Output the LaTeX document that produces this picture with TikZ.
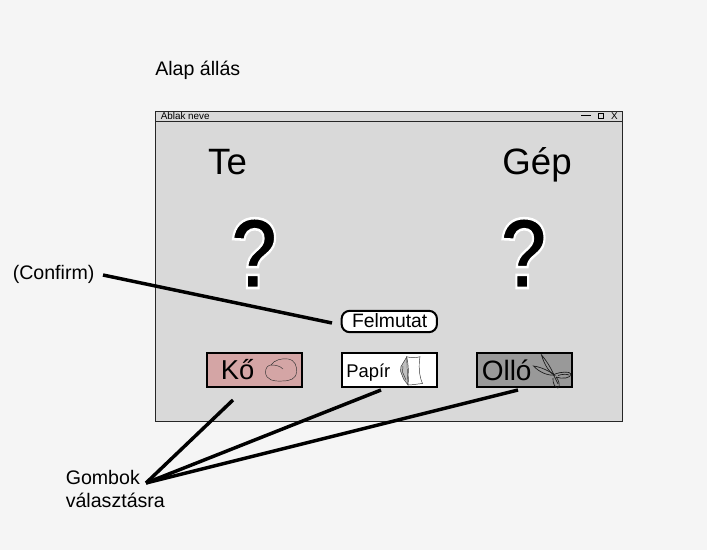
\documentclass[tikz,border=0pt]{standalone}
\usepackage{fontspec}
\setmainfont{Liberation Sans}
\definecolor{pagebg}{HTML}{F5F5F5}
\definecolor{winbg}{HTML}{D9D9D9}
\definecolor{rock}{HTML}{D4A5A5}
\definecolor{sciss}{HTML}{999999}
\newfontfamily\qfont{Liberation Sans Bold}
\newcommand{\haloq}{\scalebox{.83}[1]{\special{pdf:code q 2 Tr 1 1 1 RG 1.9 w}?\special{pdf:code Q}}}
\begin{document}
\begin{tikzpicture}[x=0.75pt,y=-0.75pt,
  win/.style={draw=black!85,line width=0.6pt,fill=winbg},
  btn/.style={draw=black,line width=1.5pt,minimum width=71.5pt,minimum height=25.5pt,inner sep=0pt},
  lead/.style={draw=black,line width=2.6pt},
  note/.style={font=\fontsize{14.7pt}{18.5pt}\selectfont,inner sep=0pt,align=left},
  head/.style={font=\fontsize{27.5pt}{30pt}\selectfont,inner sep=0pt},
  qm/.style={font=\qfont\fontsize{75pt}{77pt}\selectfont,inner sep=0pt},
  sketch/.style={draw=black!80,line width=0.35pt},
  scis/.style={draw=black!90,line width=0.5pt}]
\useasboundingbox (0,0) rectangle (707,550);
\fill[pagebg] (0,0) rectangle (707,550);
\node[note,anchor=base west] (title) at (155,75) {Alap állás};
\node[win,minimum width=350.2pt,minimum height=232.8pt,anchor=north west,inner sep=0pt] (window) at (155,110.5) {};
\draw[draw=black!85,line width=0.6pt] (155,121.5) -- (622.5,121.5);
\node[font=\fontsize{7.4pt}{8pt}\selectfont,inner sep=0pt,anchor=base west] (wname) at (160.5,119.3) {Ablak neve};
\draw[line width=0.6pt] (581,115.5) -- (591,115.5);
\draw[line width=0.6pt] (598,113.5) rectangle (603.5,118);
\node[font=\fontsize{7.4pt}{8pt}\selectfont,inner sep=0pt,anchor=base] (xbtn) at (614.5,119.3) {X};
\node[head,anchor=base] (te) at (227.5,174.5) {Te};
\node[head,anchor=base] (gep) at (537,174.5) {Gép};
\node[qm,anchor=base] (q1) at (254.5,288) {\haloq};
\node[qm,anchor=base] (q2) at (524,288) {\haloq};
\node[draw=black,line width=1.5pt,fill=white,rounded corners=6pt,minimum width=71.5pt,minimum height=16pt,inner sep=0pt] (ok) at (389.3,321.5) {};
\node[inner sep=0pt,font=\fontsize{14.5pt}{16pt}\selectfont,anchor=base] (okt) at (389.7,327.5) {Felmutat};
\node[btn,fill=rock] (ko) at (254.3,370) {};
\node[btn,fill=white] (papir) at (389.3,370) {};
\node[btn,fill=sciss] (ollo) at (524.3,370) {};
\node[font=\fontsize{20.5pt}{22pt}\selectfont,inner sep=0pt,anchor=base west] (kot) at (220.5,379) {Kő};
\node[font=\fontsize{13.8pt}{16pt}\selectfont,inner sep=0pt,anchor=base west] (pat) at (346,377.5) {Papír};
\node[font=\fontsize{21pt}{22pt}\selectfont,inner sep=0pt,anchor=base west] (olt) at (481.5,380) {Olló};
% rock
\draw[sketch] (265.5,372) .. controls (265.5,368) and (268,365) .. (271,365) .. controls (274,360) and (282,358) .. (288,359) .. controls (295,360) and (297,366) .. (296.5,372) .. controls (296,379) and (290,381) .. (282,381) .. controls (274,381.5) and (265.5,380) .. (265.5,372) -- cycle;
\draw[sketch] (271,365) .. controls (276,365) and (280,366) .. (283,369);
% paper
\draw[sketch,fill=black!25] (406.7,357) -- (401,366.5) -- (400.5,371) -- (403.5,379) -- (408,385) -- cycle;
\draw[sketch] (403,366) -- (402.5,372) -- (406,380);
\draw[sketch,fill=white] (406.7,356.7) .. controls (411,358) and (416,358) .. (420,356.7) .. controls (418.5,365) and (419,376) .. (422.5,383.5) .. controls (417,384) and (412,385) .. (408,385) .. controls (409,375) and (408.5,365) .. (406.7,356.7) -- cycle;
% scissors
\draw[scis] (541.5,355) .. controls (546,360) and (551,368) .. (554,375) .. controls (549,372) and (544,364) .. (541.5,355) -- cycle;
\draw[scis] (533.5,366) .. controls (541,367) and (549,371) .. (555,375) .. controls (548,376) and (539,372) .. (533.5,366) -- cycle;
\draw[scis] (553,374) -- (558,384);
\draw[scis] (555,374) .. controls (560,372) and (570,371) .. (571,374) .. controls (571.5,378) and (562,379.5) .. (556,377);
\draw[scis] (558,375.5) .. controls (562,374) and (567,374) .. (569,375);
\draw[scis] (553,378) .. controls (552.5,383) and (555,388) .. (558,388) .. controls (560.5,386.5) and (559,380) .. (556,377);
% leaders
\coordinate (lc) at (103,275);
\coordinate (gn) at (146,483);
\coordinate (ka) at (233,400);
\coordinate (pa) at (381,390);
\coordinate (oa) at (518,390);
\coordinate (okl) at (332,323);
\draw[lead] (lc) -- (okl);
\draw[lead] (gn) -- (ka);
\draw[lead] (gn) -- (pa);
\draw[lead] (gn) -- (oa);
\node[note,anchor=base west] (confirm) at (12.5,279) {(Confirm)};
\node[note,anchor=base west] (gombok) at (65.5,484) {Gombok};
\node[note,anchor=base west] (gombok2) at (65.5,507) {választásra};
\end{tikzpicture}
\end{document}
